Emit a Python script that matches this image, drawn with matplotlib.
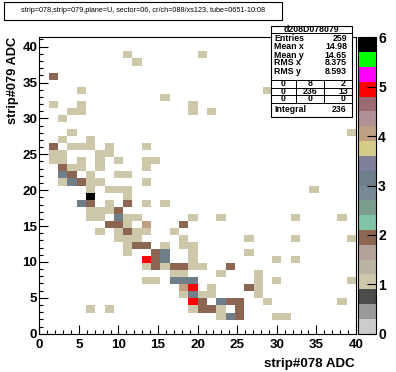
import numpy as np
import matplotlib
matplotlib.use("Agg")
import matplotlib.pyplot as plt
from matplotlib.colors import ListedColormap, Normalize
from matplotlib.patches import Rectangle
from matplotlib.lines import Line2D
from matplotlib.ticker import MultipleLocator

plt.rcParams['font.family'] = ['Liberation Sans', 'DejaVu Sans']

# histogram binning (34 x bins on 0..40, 42 y bins on 0..41.3)
n_xbins, x_lo, x_hi = 34, 0.0, 40.0
n_ybins, y_lo, y_hi = 42, 0.0, 41.3

# filled bins: x bin index, y bin index, counts (one line per y row)
bin_x = [9, 17,
         10,
         1,
         4, 24,
         13,
         1, 4, 16,
         3, 4, 16, 18,
         2,
         3, 33,
         2, 5,
         1, 3, 4, 5, 7, 11,
         1, 2, 6, 7,
         1, 2, 4, 6, 8, 11, 12,
         2, 3, 4, 6, 11,
         2, 3, 5, 8, 9,
         2, 3, 4, 5, 6, 11,
         5, 7, 8, 9, 29,
         5, 9,
         4, 5, 7, 9, 11, 13,
         5, 6, 7, 8,
         5, 6, 8, 9, 10, 16, 19, 27, 32,
         7, 8, 9, 11, 15,
         6, 8, 9, 10, 11, 14,
         8, 9, 10, 15, 22, 27, 33,
         9, 10, 11, 13, 15, 16,
         9, 12, 13, 16, 22,
         11, 12, 13, 16, 25, 27,
         11, 12, 13, 14, 15, 16, 17, 20,
         14, 15, 19, 23,
         11, 12, 14, 15, 16, 23, 25, 33,
         15, 16, 18, 22, 23,
         15, 16, 17, 18, 23,
         16, 17, 19, 20, 21, 24, 32,
         5, 7, 16, 17, 18, 19, 21,
         19, 20, 21, 25, 26]
bin_y = [39, 39,
         38,
         36,
         34, 34,
         33,
         32, 32, 32,
         31, 31, 31, 31,
         30,
         28, 28,
         27, 27,
         26, 26, 26, 26, 26, 26,
         25, 25, 25, 25,
         24, 24, 24, 24, 24, 24, 24,
         23, 23, 23, 23, 23,
         22, 22, 22, 22, 22,
         21, 21, 21, 21, 21, 21,
         20, 20, 20, 20, 20,
         19, 19,
         18, 18, 18, 18, 18, 18,
         17, 17, 17, 17,
         16, 16, 16, 16, 16, 16, 16, 16, 16,
         15, 15, 15, 15, 15,
         14, 14, 14, 14, 14, 14,
         13, 13, 13, 13, 13, 13, 13,
         12, 12, 12, 12, 12, 12,
         11, 11, 11, 11, 11,
         10, 10, 10, 10, 10, 10,
         9, 9, 9, 9, 9, 9, 9, 9,
         8, 8, 8, 8,
         7, 7, 7, 7, 7, 7, 7, 7,
         6, 6, 6, 6, 6,
         5, 5, 5, 5, 5,
         4, 4, 4, 4, 4, 4, 4,
         3, 3, 3, 3, 3, 3, 3,
         2, 2, 2, 2, 2]
counts = [1, 1,
          1,
          2,
          1, 1,
          1,
          1, 1, 1,
          1, 1, 1, 1,
          1,
          1, 1,
          1, 1,
          2, 1, 1, 1, 1, 1,
          1, 1, 1, 1,
          1, 1, 1, 1, 1, 1, 1,
          2, 1, 1, 1, 1,
          3, 2, 1, 1, 1,
          1, 3, 2, 1, 1, 1,
          1, 1, 1, 1, 1,
          6, 1,
          3, 2, 1, 2, 1, 1,
          1, 1, 1, 2,
          1, 1, 3, 1, 1, 1, 1, 1, 1,
          2, 2, 1, 4, 2,
          1, 1, 2, 1, 1, 1,
          1, 1, 1, 1, 1, 1, 1,
          1, 2, 2, 1, 1, 1,
          1, 2, 3, 1, 1,
          5, 2, 3, 1, 1, 1,
          1, 2, 1, 2, 2, 1, 1, 2,
          1, 1, 1, 1,
          1, 1, 3, 3, 3, 1, 1, 1,
          4, 5, 1, 2, 1,
          1, 3, 1, 1, 1,
          5, 2, 3, 2, 2, 1, 1,
          1, 1, 1, 2, 2, 1, 2,
          1, 3, 2, 1, 1]

title = "strip=078,strip=079,plane=U, sector=06, cr/ch=088/xs123, tube=0651-10:08"
hist_name = "d208D078079"
stat_labels = ["Entries", "Mean x", "Mean y", "RMS x", "RMS y"]
stat_values = ["259", "14.98", "14.65", "8.375", "8.593"]
overflow = [["0", "8", "2"], ["0", "236", "13"], ["0", "0", "0"]]
integral = "236"

# 20 level palette, bottom to top
palette = ["#cccccc", "#999999", "#4c4c4c", "#cdc8aa", "#bab5a2",
           "#b5a39b", "#8c6553", "#80c4a8", "#7c9d8b", "#778a96",
           "#6f7e89", "#7f7e9b", "#d4cc88", "#c0a080", "#b09094",
           "#9a6b73", "#ff0000", "#ff00ff", "#00ff00", "#000000"]

W, H = 396, 372


def fx(px):
    return px / W


def fy(py):
    return 1 - py / H


grid = np.zeros((n_ybins, n_xbins))
for ix, iy, n in zip(bin_x, bin_y, counts):
    grid[iy, ix] = n
grid = np.ma.masked_equal(grid, 0)
xedges = np.linspace(x_lo, x_hi, n_xbins + 1)
yedges = np.linspace(y_lo, y_hi, n_ybins + 1)

fig = plt.figure(figsize=(W / 100, H / 100), dpi=100)
ax = fig.add_axes([fx(39.3), fy(333.7), (356 - 39.3) / W, (333.7 - 37.3) / H])
cmap = ListedColormap(palette)
mesh = ax.pcolormesh(xedges, yedges, grid, cmap=cmap, norm=Normalize(0, 6))
ax.set_xlim(x_lo, x_hi)
ax.set_ylim(y_lo, y_hi)
for a in (ax.xaxis, ax.yaxis):
    a.set_major_locator(MultipleLocator(5))
    a.set_minor_locator(MultipleLocator(1))
ax.tick_params(which='both', direction='in', width=0.8)
ax.tick_params(which='major', length=6.5)
ax.tick_params(which='minor', length=3.2)
ax.tick_params(axis='x', pad=3.5)
ax.tick_params(axis='y', pad=1.5)
for lab in ax.get_xticklabels() + ax.get_yticklabels():
    lab.set_fontweight('bold')
    lab.set_fontsize(9.6)
for s in ax.spines.values():
    s.set_linewidth(0.8)

cax = fig.add_axes([fx(358.3), fy(333.7), 17.7 / W, (333.7 - 37.3) / H])
cb = fig.colorbar(mesh, cax=cax, ticks=range(7))
cb.ax.tick_params(direction='in', length=6.5, width=0.8, pad=1.5)
for lab in cb.ax.get_yticklabels():
    lab.set_fontweight('bold')
    lab.set_fontsize(10)
cb.outline.set_linewidth(0.8)

fig.text(fx(355), fy(364), "strip#078 ADC", ha='right', va='center',
         fontsize=9.6, fontweight='bold')
fig.text(fx(13.5), fy(37), "strip#079 ADC", ha='center', va='top',
         rotation=90, fontsize=9.3, fontweight='bold')

# title pave
fig.add_artist(Rectangle((fx(4), fy(20)), (281.7 - 4) / W, (20 - 1.7) / H,
                         transform=fig.transFigure, fill=False, lw=0.8))
fig.text(fx(142.8), fy(10.8), title, ha='center', va='center', fontsize=5.2)

# stats box
bx0, bx1, by0, by1 = 271, 351.5, 26, 116.5
fig.add_artist(Rectangle((fx(bx0), fy(by1)), (bx1 - bx0) / W, (by1 - by0) / H,
                         transform=fig.transFigure, facecolor='white',
                         edgecolor='black', lw=0.8, zorder=5))


def hline(py, x0=bx0, x1=bx1):
    fig.add_artist(Line2D([fx(x0), fx(x1)], [fy(py), fy(py)],
                          transform=fig.transFigure, color='black', lw=0.7, zorder=6))


def vline(px, y0, y1):
    fig.add_artist(Line2D([fx(px), fx(px)], [fy(y0), fy(y1)],
                          transform=fig.transFigure, color='black', lw=0.7, zorder=6))


def stxt(px, py, s, ha):
    fig.text(fx(px), fy(py), s, ha=ha, va='center', fontsize=6.3,
             fontweight='bold', zorder=7)


stxt(311, 29.5, hist_name, 'center')
hline(33)
for py, lab, val in zip([38.5, 46.5, 55, 62.5, 71.5], stat_labels, stat_values):
    stxt(274, py, lab, 'left')
    stxt(347, py, val, 'right')
for py in [80, 87.5, 95, 102.7]:
    hline(py)
vline(296, 80, 102.7)
vline(323.5, 80, 102.7)
for py, row in zip([83.7, 91.2, 98.9], overflow):
    for px, s in zip([283.5, 310, 343], row):
        stxt(px, py, s, 'center')
stxt(274, 109, "Integral", 'left')
stxt(347, 109, integral, 'right')

fig.savefig("out.png", dpi=100)
